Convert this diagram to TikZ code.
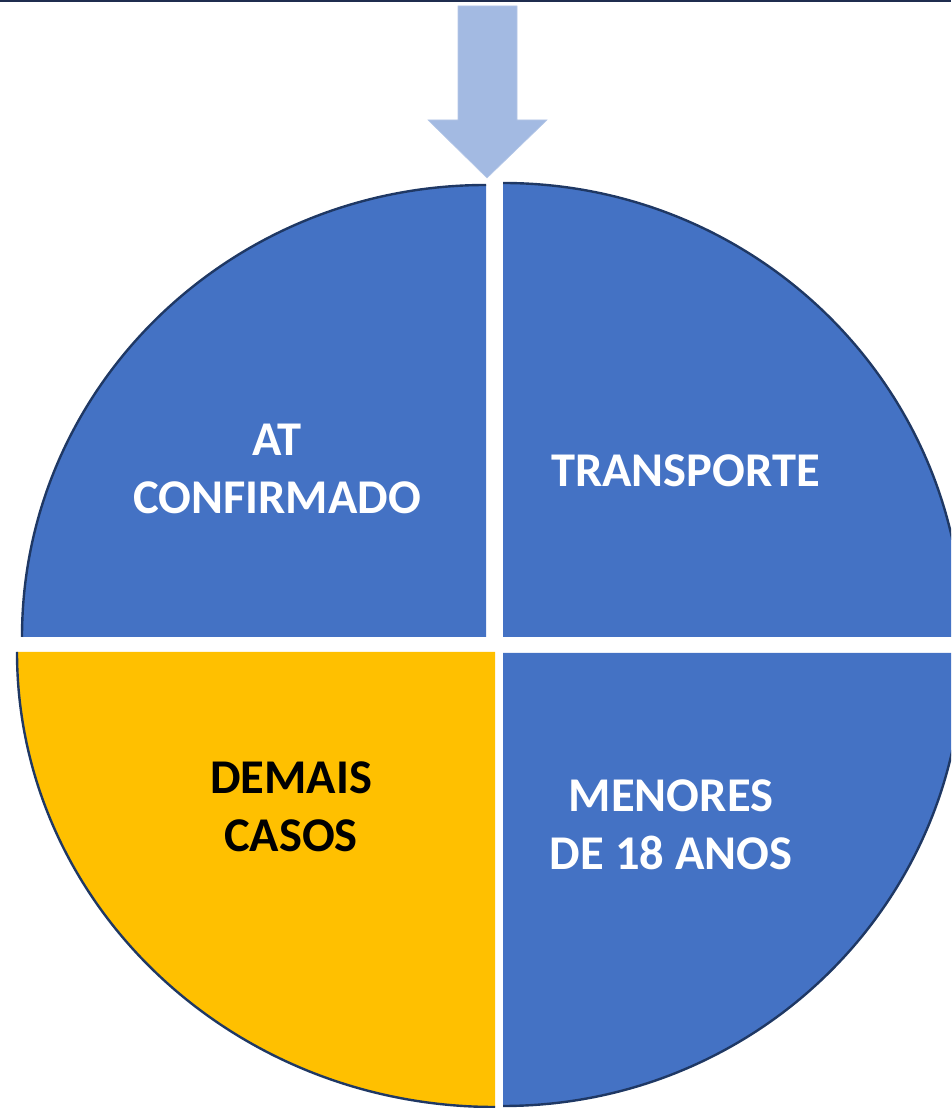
\documentclass[tikz,border=0pt]{standalone}
\usepackage{fontspec}
\setmainfont{Carlito}
\definecolor{qblue}{HTML}{4472C4}
\definecolor{qyellow}{HTML}{FFC000}
\definecolor{rim}{HTML}{1F3864}
\definecolor{arrowblue}{HTML}{A3BAE2}
\definecolor{arrowedge}{HTML}{B4C7E7}
\definecolor{topline}{HTML}{1F2D4F}
\begin{document}
\begin{tikzpicture}[x=1pt,y=1pt,
  lbl/.style={inner sep=0pt, anchor=base, align=center,
    font=\bfseries\fontsize{48.5}{58}\selectfont},
  rimline/.style={draw=rim, line width=2.4pt}]
\useasboundingbox (0,0) rectangle (951,1108);
\clip (0,0) rectangle (951,1108);
% top rule
\fill[topline] (0,1105.6) rectangle (951,1108);
% arrow
\draw[fill=arrowblue, draw=arrowedge, line width=0.6pt]
  (458,1102) -- (517,1102) -- (517,988) -- (547,988) -- (487,930)
  -- (428,988) -- (458,988) -- cycle;
% top-left quadrant
\fill[qblue] (486,471) -- (486,923)
  arc[start angle=90,end angle=180,x radius=464pt,y radius=452pt] -- cycle;
\draw[rimline] (486,923)
  arc[start angle=90,end angle=180,x radius=464pt,y radius=452pt];
% top-right quadrant
\fill[qblue] (503,471) -- (963,471)
  arc[start angle=0,end angle=90,x radius=460pt,y radius=454pt] -- cycle;
\draw[rimline] (963,471)
  arc[start angle=0,end angle=90,x radius=460pt,y radius=454pt];
% bottom-left quadrant
\fill[qyellow] (495,456) -- (17,456)
  arc[start angle=180,end angle=270,x radius=478pt,y radius=455pt] -- cycle;
\draw[rimline] (17,456)
  arc[start angle=180,end angle=270,x radius=478pt,y radius=455pt];
% bottom-right quadrant
\fill[qblue] (503,455) -- (503,2)
  arc[start angle=270,end angle=360,x radius=460pt,y radius=453pt] -- cycle;
\draw[rimline] (503,2)
  arc[start angle=270,end angle=360,x radius=460pt,y radius=453pt];
% labels (base anchor = last line's baseline)
\node[lbl, text=white] (at) at (277,594) {AT\\CONFIRMADO};
\node[lbl, text=white] (tr) at (685.5,621) {TRANSPORTE};
\node[lbl, text=black] (dc) at (291,256) {DEMAIS\\CASOS};
\node[lbl, text=white] (mn) at (671,238) {MENORES\\DE 18 ANOS};
\end{tikzpicture}
\end{document}
